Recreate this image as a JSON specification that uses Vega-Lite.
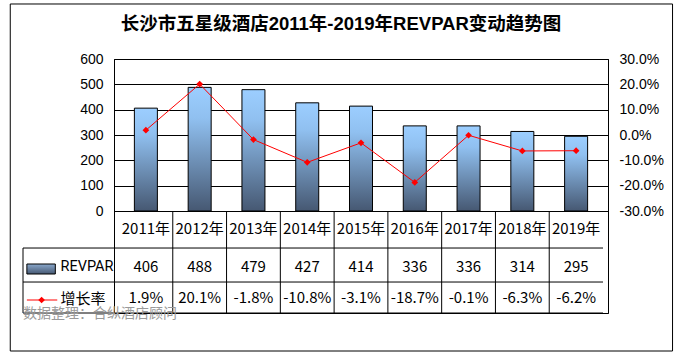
{
  "$schema": "https://vega.github.io/schema/vega-lite/v6.json",
  "width": 494,
  "height": 254,
  "autosize": {"type": "none"},
  "padding": {"left": 114, "top": 59, "right": 74, "bottom": 42},
  "background": "white",
  "title": {
    "text": "长沙市五星级酒店2011年-2019年REVPAR变动趋势图",
    "font": "Liberation Sans, Noto Sans CJK SC",
    "fontSize": 18.5,
    "fontWeight": "bold",
    "color": "black",
    "anchor": "middle",
    "dx": -20,
    "offset": 0,
    "dy": 30
  },
  "datasets": {
    "main": [
      {"year": 2011, "label": "2011年", "revpar": 406, "growth": 0.019},
      {"year": 2012, "label": "2012年", "revpar": 488, "growth": 0.201},
      {"year": 2013, "label": "2013年", "revpar": 479, "growth": -0.018},
      {"year": 2014, "label": "2014年", "revpar": 427, "growth": -0.108},
      {"year": 2015, "label": "2015年", "revpar": 414, "growth": -0.031},
      {"year": 2016, "label": "2016年", "revpar": 336, "growth": -0.187},
      {"year": 2017, "label": "2017年", "revpar": 336, "growth": -0.001},
      {"year": 2018, "label": "2018年", "revpar": 314, "growth": -0.063},
      {"year": 2019, "label": "2019年", "revpar": 295, "growth": -0.062}
    ],
    "edges": [
      {"edge": 2011.5}, {"edge": 2012.5}, {"edge": 2013.5}, {"edge": 2014.5},
      {"edge": 2015.5}, {"edge": 2016.5}, {"edge": 2017.5}, {"edge": 2018.5}
    ],
    "one": [{}]
  },
  "layer": [
    {
      "layer": [
        {
          "data": {"name": "main"},
          "mark": {
            "type": "bar",
            "size": 23,
            "stroke": "black",
            "strokeWidth": 1,
            "fill": {
              "gradient": "linear",
              "x1": 0, "y1": 0, "x2": 0, "y2": 1,
              "stops": [
                {"offset": 0, "color": "#9cceff"},
                {"offset": 0.25, "color": "#90c0f0"},
                {"offset": 1, "color": "#465872"}
              ]
            }
          },
          "encoding": {
            "x": {"field": "year", "type": "quantitative", "scale": {"domain": [2010.5, 2019.5], "nice": false, "zero": false}, "axis": null},
            "y": {
              "field": "revpar",
              "type": "quantitative",
              "scale": {"domain": [-402.6, 600], "nice": false, "zero": false},
              "axis": {
                "values": [0, 100, 200, 300, 400, 500, 600],
                "title": null,
                "grid": true,
                "gridColor": "black",
                "gridOpacity": 1,
                "gridWidth": 1,
                "domain": true,
                "domainColor": "black",
                "ticks": false,
                "labelFont": "Liberation Sans",
                "labelFontSize": 14,
                "labelColor": "black",
                "labelPadding": 11
              }
            }
          }
        },
        {
          "data": {"name": "one"},
          "mark": {"type": "rect", "fill": null, "stroke": "black", "strokeWidth": 1},
          "encoding": {
            "x": {"datum": 2008.478, "type": "quantitative", "axis": null},
            "x2": {"datum": 2020.793},
            "y": {"datum": 817.1, "type": "quantitative"},
            "y2": {"datum": -552.6}
          }
        },
        {
          "data": {"name": "edges"},
          "mark": {"type": "rule", "color": "black", "strokeWidth": 1},
          "encoding": {
            "x": {"field": "edge", "type": "quantitative", "axis": null},
            "y": {"datum": 0, "type": "quantitative"},
            "y2": {"datum": -402.6}
          }
        },
        {
          "data": {"name": "one"},
          "mark": {"type": "rule", "color": "black", "strokeWidth": 1},
          "encoding": {
            "x": {"datum": 2008.715, "type": "quantitative", "axis": null},
            "y": {"datum": -146.1, "type": "quantitative"},
            "y2": {"datum": -402.6}
          }
        },
        {
          "data": {"name": "one"},
          "mark": {"type": "rule", "color": "black", "strokeWidth": 1},
          "encoding": {
            "x": {"datum": 2008.715, "type": "quantitative", "axis": null},
            "x2": {"datum": 2019.5},
            "y": {"datum": -146.1, "type": "quantitative"}
          }
        },
        {
          "data": {"name": "one"},
          "mark": {"type": "rule", "color": "black", "strokeWidth": 1},
          "encoding": {
            "x": {"datum": 2008.715, "type": "quantitative", "axis": null},
            "x2": {"datum": 2019.5},
            "y": {"datum": -280.3, "type": "quantitative"}
          }
        },
        {
          "data": {"name": "one"},
          "mark": {"type": "rule", "color": "black", "strokeWidth": 1},
          "encoding": {
            "x": {"datum": 2008.715, "type": "quantitative", "axis": null},
            "x2": {"datum": 2019.5},
            "y": {"datum": -402.6, "type": "quantitative"}
          }
        },
        {
          "data": {"name": "main"},
          "mark": {"type": "text", "font": "Noto Sans CJK SC", "fontSize": 15, "color": "black", "align": "center", "baseline": "middle"},
          "encoding": {
            "x": {"field": "year", "type": "quantitative", "axis": null},
            "y": {"datum": -71, "type": "quantitative"},
            "text": {"field": "label"}
          }
        },
        {
          "data": {"name": "main"},
          "mark": {"type": "text", "font": "Noto Sans CJK SC", "fontSize": 15, "color": "black", "align": "center", "baseline": "middle"},
          "encoding": {
            "x": {"field": "year", "type": "quantitative", "axis": null},
            "y": {"datum": -221, "type": "quantitative"},
            "text": {"field": "revpar", "type": "quantitative", "format": "d"}
          }
        },
        {
          "data": {"name": "main"},
          "mark": {"type": "text", "font": "Noto Sans CJK SC", "fontSize": 15, "color": "black", "align": "center", "baseline": "middle"},
          "encoding": {
            "x": {"field": "year", "type": "quantitative", "axis": null},
            "y": {"datum": -345, "type": "quantitative"},
            "text": {"field": "growth", "type": "quantitative", "format": ".1%"}
          }
        },
        {
          "data": {"name": "one"},
          "mark": {
            "type": "rect",
            "stroke": "black",
            "strokeWidth": 1,
            "fill": {
              "gradient": "linear",
              "x1": 0, "y1": 0, "x2": 0, "y2": 1,
              "stops": [
                {"offset": 0, "color": "#8aa8cc"},
                {"offset": 1, "color": "#465872"}
              ]
            }
          },
          "encoding": {
            "x": {"datum": 2008.787, "type": "quantitative", "axis": null},
            "x2": {"datum": 2009.316},
            "y": {"datum": -209.2, "type": "quantitative"},
            "y2": {"datum": -248.7}
          }
        },
        {
          "data": {"name": "one"},
          "mark": {"type": "text", "font": "Roboto", "fontSize": 14.5, "color": "black", "align": "left", "baseline": "middle", "text": "REVPAR"},
          "encoding": {
            "x": {"datum": 2009.412, "type": "quantitative", "axis": null},
            "y": {"datum": -223, "type": "quantitative"}
          }
        },
        {
          "data": {"name": "one"},
          "mark": {"type": "rule", "color": "#ff0000", "strokeWidth": 1},
          "encoding": {
            "x": {"datum": 2008.787, "type": "quantitative", "axis": null},
            "x2": {"datum": 2009.352},
            "y": {"datum": -351.3, "type": "quantitative"}
          }
        },
        {
          "data": {"name": "one"},
          "mark": {"type": "point", "shape": "diamond", "filled": true, "color": "#ff0000", "opacity": 1, "size": 45},
          "encoding": {
            "x": {"datum": 2009.061, "type": "quantitative", "axis": null},
            "y": {"datum": -351.3, "type": "quantitative"}
          }
        },
        {
          "data": {"name": "one"},
          "mark": {"type": "text", "font": "Noto Sans CJK SC", "fontSize": 15, "color": "black", "align": "left", "baseline": "middle", "text": "增长率"},
          "encoding": {
            "x": {"datum": 2009.412, "type": "quantitative", "axis": null},
            "y": {"datum": -347.4, "type": "quantitative"}
          }
        },
        {
          "data": {"name": "one"},
          "mark": {"type": "text", "font": "Noto Sans CJK SC", "fontSize": 14, "color": "#9a9a9a", "align": "left", "baseline": "middle", "text": "数据整理：合纵酒店顾问"},
          "encoding": {
            "x": {"datum": 2008.715, "type": "quantitative", "axis": null},
            "y": {"datum": -406.6, "type": "quantitative"}
          }
        }
      ]
    },
    {
      "data": {"name": "main"},
      "mark": {
        "type": "line",
        "color": "#ff0000",
        "strokeWidth": 1,
        "point": {"shape": "diamond", "filled": true, "color": "#ff0000", "size": 45, "opacity": 1}
      },
      "encoding": {
        "x": {"field": "year", "type": "quantitative", "axis": null},
        "y": {
          "field": "growth",
          "type": "quantitative",
          "scale": {"domain": [-0.7026, 0.3], "nice": false, "zero": false},
          "axis": {
            "orient": "right",
            "values": [-0.3, -0.2, -0.1, 0, 0.1, 0.2, 0.3],
            "format": ".1%",
            "title": null,
            "grid": false,
            "domain": true,
            "domainColor": "black",
            "ticks": false,
            "labelFont": "Liberation Sans",
            "labelFontSize": 14,
            "labelColor": "black",
            "labelPadding": 11
          }
        }
      }
    }
  ],
  "resolve": {"scale": {"y": "independent"}, "axis": {"y": "independent"}},
  "config": {
    "view": {"stroke": "black", "strokeWidth": 1},
    "locale": {
      "number": {"decimal": ".", "thousands": ",", "grouping": [3], "currency": ["$", ""], "minus": "-"}
    }
  }
}
